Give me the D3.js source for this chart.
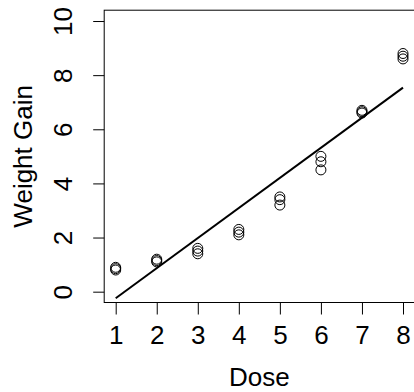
<!DOCTYPE html>
<html>
<head>
<meta charset="utf-8">
<script src="https://cdn.jsdelivr.net/npm/d3@7"></script>
<style>
  html, body { margin: 0; padding: 0; background: #fff; }
  svg { display: block; }
  text { font-family: "Liberation Sans", Arial, Helvetica, sans-serif; fill: #000; }
</style>
</head>
<body>
<div id="chart"></div>
<script>
// dose levels and the weight gain readings (three animals per dose)
const doses = [1, 2, 3, 4, 5, 6, 7, 8];
const gain1 = [0.80, 1.10, 1.40, 2.10, 3.20, 4.50, 6.60, 8.60];
const gain2 = [0.90, 1.20, 1.60, 2.20, 3.40, 4.80, 6.70, 8.70];
const gain3 = [0.85, 1.15, 1.50, 2.30, 3.50, 5.00, 6.65, 8.80];

const xTicks = [1, 2, 3, 4, 5, 6, 7, 8];
const yTicks = [0, 2, 4, 6, 8, 10];

const width = 414,
    height = 392;

let points = [];
doses.forEach((d, i) => {
    points.push({ x: d, y: gain1[i] });
    points.push({ x: d, y: gain2[i] });
    points.push({ x: d, y: gain3[i] });
});

// least squares fit, like lm(gain ~ dose)
let mx = d3.mean(points, d => d.x),
    my = d3.mean(points, d => d.y);
let sxy = d3.sum(points, d => (d.x - mx) * (d.y - my)),
    sxx = d3.sum(points, d => (d.x - mx) * (d.x - mx));
let slope = sxy / sxx,
    intercept = my - slope * mx;
let fitLine = d3.extent(doses).map(d => ({ x: d, y: intercept + slope * d }));

// R style 4% padding on the axis ranges
let x = d3.scaleLinear().domain([0.72, 8.28]).range([104.2, 414.5]);
let y = d3.scaleLinear().domain([-0.4, 10.4]).range([302.5, 10.2]);

let svg = d3.select("#chart")
    .append("svg")
    .attr("width", width)
    .attr("height", height);

// plot box
svg.append("rect")
    .attr("x", x.range()[0])
    .attr("y", y.range()[1])
    .attr("width", x.range()[1] - x.range()[0])
    .attr("height", y.range()[0] - y.range()[1])
    .attr("fill", "none")
    .attr("stroke", "#000")
    .attr("stroke-width", 1);

let xAxis = svg.append("g")
    .attr("transform", `translate(0,${y.range()[0]})`)
    .call(d3.axisBottom(x).tickValues(xTicks).tickSize(12).tickFormat(d3.format("d")));
xAxis.select(".domain").remove();
xAxis.selectAll("line").attr("stroke", "#000");
xAxis.selectAll("text")
    .attr("y", 41.5)
    .attr("dy", null)
    .style("font-size", "26px")
    .style("font-family", "Liberation Sans, Arial, sans-serif");

let yAxis = svg.append("g")
    .attr("transform", `translate(${x.range()[0]},0)`)
    .call(d3.axisLeft(y).tickValues(yTicks).tickSize(11).tickFormat(d3.format("d")));
yAxis.select(".domain").remove();
yAxis.selectAll("line").attr("stroke", "#000");
yAxis.selectAll("text")
    .attr("x", null)
    .attr("dy", null)
    .attr("text-anchor", "middle")
    .attr("transform", "translate(-32.5,0) rotate(-90)")
    .style("font-size", "26px")
    .style("font-family", "Liberation Sans, Arial, sans-serif");

// axis titles
svg.append("text")
    .attr("x", (x.range()[0] + x.range()[1]) / 2)
    .attr("y", 386)
    .attr("text-anchor", "middle")
    .style("font-size", "26px")
    .text("Dose");

svg.append("text")
    .attr("transform", `translate(32,${(y.range()[0] + y.range()[1]) / 2}) rotate(-90)`)
    .attr("text-anchor", "middle")
    .style("font-size", "26px")
    .text("Weight Gain");

// fitted line
svg.append("path")
    .datum(fitLine)
    .attr("fill", "none")
    .attr("stroke", "#000")
    .attr("stroke-width", 2)
    .attr("d", d3.line().x(d => x(d.x)).y(d => y(d.y)));

// open circles
svg.selectAll(".pt")
    .data(points)
    .enter()
    .append("circle")
    .attr("class", "pt")
    .attr("cx", d => x(d.x))
    .attr("cy", d => y(d.y))
    .attr("r", 5)
    .attr("fill", "none")
    .attr("stroke", "#000")
    .attr("stroke-width", 1);
</script>
</body>
</html>
